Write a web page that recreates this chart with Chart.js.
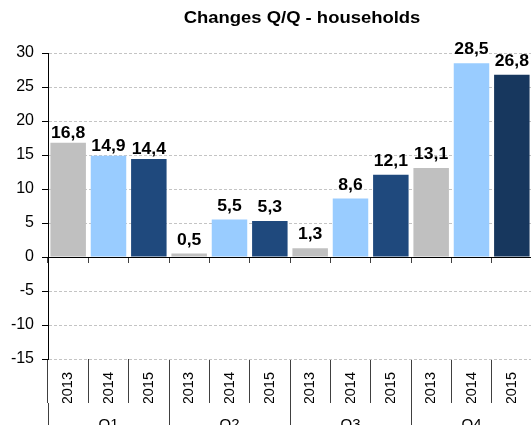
<!DOCTYPE html>
<html>
<head>
<meta charset="utf-8">
<title>Changes Q/Q - households</title>
<script src="https://cdn.jsdelivr.net/npm/chart.js@4.4.1/dist/chart.umd.min.js"></script>
<style>
html, body { margin: 0; padding: 0; overflow: hidden; background: #fff; }
#wrap { position: absolute; left: 0; top: 0; width: 533px; height: 445px; }
</style>
</head>
<body>
<div id="wrap"><canvas id="chart" width="533" height="445"></canvas></div>
<script>
// Data
const quarters = ['Q1', 'Q2', 'Q3', 'Q4'];
const years = ['2013', '2014', '2015'];
const values2013 = [16.8, 0.5, 1.3, 13.1];
const values2014 = [14.9, 5.5, 8.6, 28.5];
const values2015 = [14.4, 5.3, 12.1, 26.8];
const yTicks = [-15, -10, -5, 0, 5, 10, 15, 20, 25, 30];

// Colours per year (last bar is a bit darker in the original)
const yearColors = ['#C0C0C0', '#99CCFF', '#1F497D'];
const lastBarColor = '#17375E';

// one bar per quarter/year
const labels = [];
const values = [];
const colors = [];
quarters.forEach((q, qi) => {
    [values2013, values2014, values2015].forEach((arr, yi) => {
        labels.push(years[yi]);
        values.push(arr[qi]);
        colors.push(yearColors[yi]);
    });
});
colors[colors.length - 1] = lastBarColor;

const FONT = '"Liberation Sans", Arial, sans-serif';
Chart.defaults.font.family = FONT;
Chart.defaults.color = '#000';

// Value labels above the bars
const valueLabels = {
    id: 'valueLabels',
    afterDatasetsDraw(chart) {
        const ctx = chart.ctx;
        const meta = chart.getDatasetMeta(0);
        ctx.save();
        ctx.font = 'bold 16px ' + FONT;
        ctx.fillStyle = '#000';
        ctx.textAlign = 'center';
        ctx.textBaseline = 'alphabetic';
        meta.data.forEach((bar, i) => {
            const txt = values[i].toFixed(1).replace('.', ',');
            const gap = i < 3 ? 5 : 9; // Q1 labels sit closer to their bars
            ctx.save();
            ctx.translate(bar.x, bar.y - gap);
            ctx.scale(1.1, 1);
            ctx.fillText(txt, 0, 0);
            ctx.restore();
        });
        ctx.restore();
    }
};

// Title (centred a bit right of the canvas middle, like the original)
const titleText = {
    id: 'titleText',
    afterDraw(chart) {
        const ctx = chart.ctx;
        ctx.save();
        ctx.font = 'bold 17px ' + FONT;
        ctx.fillStyle = '#000';
        ctx.textAlign = 'center';
        ctx.textBaseline = 'alphabetic';
        ctx.translate(302, 23);
        ctx.scale(1.085, 1);
        ctx.fillText('Changes Q/Q - households', 0, 0);
        ctx.restore();
    }
};

new Chart(document.getElementById('chart'), {
    type: 'bar',
    data: {
        labels: labels,
        datasets: [{
            data: values,
            xAxisID: 'x',
            yAxisID: 'y',
            backgroundColor: colors,
            borderWidth: 0,
            barPercentage: 0.88,
            categoryPercentage: 1
        }]
    },
    options: {
        responsive: false,
        devicePixelRatio: 1,
        animation: false,
        layout: { padding: { top: 53, right: 1, bottom: 0, left: 0 } },
        plugins: {
            legend: { display: false },
            tooltip: { enabled: false },
            title: { display: false }
        },
        scales: {
            // axis line at zero with tick marks between bars
            x: {
                type: 'category',
                axis: 'x',
                position: { y: 0 },
                offset: true,
                ticks: { display: false },
                grid: { offset: true, drawOnChartArea: false, drawTicks: true, tickLength: 5, tickColor: '#404040' },
                border: { display: true, color: '#000', width: 1 }
            },
            // year labels under the plot
            years: {
                type: 'category',
                axis: 'x',
                position: 'bottom',
                labels: labels,
                offset: true,
                weight: 0,
                grid: { offset: true, drawOnChartArea: false, tickLength: 44, tickColor: '#404040' },
                border: { display: false },
                ticks: { autoSkip: false, minRotation: 90, maxRotation: 90, padding: -31, color: '#000', font: { size: 14.5 } },
                afterFit: s => { s.height = 44; }
            },
            // quarter labels
            quarters: {
                type: 'category',
                axis: 'x',
                position: 'bottom',
                labels: quarters,
                offset: true,
                weight: 1,
                grid: { offset: true, drawOnChartArea: false, tickLength: 42, tickColor: '#404040' },
                border: { display: false },
                ticks: { autoSkip: false, maxRotation: 0, padding: -29, color: '#000', font: { size: 15 } },
                afterFit: s => { s.height = 42; }
            },
            y: {
                min: -15,
                max: 30,
                afterBuildTicks: s => { s.ticks = yTicks.map(v => ({ value: v })); },
                ticks: { padding: 8, color: '#000', font: { size: 16 }, callback: v => String(v) },
                grid: {
                    color: c => (c.tick && c.tick.value === 0) ? 'rgba(0,0,0,0)' : '#C4C4C4',
                    tickColor: '#000',
                    tickLength: 6,
                    lineWidth: 1
                },
                border: { display: true, color: '#000', width: 1, dash: [3, 2] },
                afterFit: s => { s.width = 48; }
            }
        }
    },
    plugins: [valueLabels, titleText]
});
</script>
</body>
</html>
